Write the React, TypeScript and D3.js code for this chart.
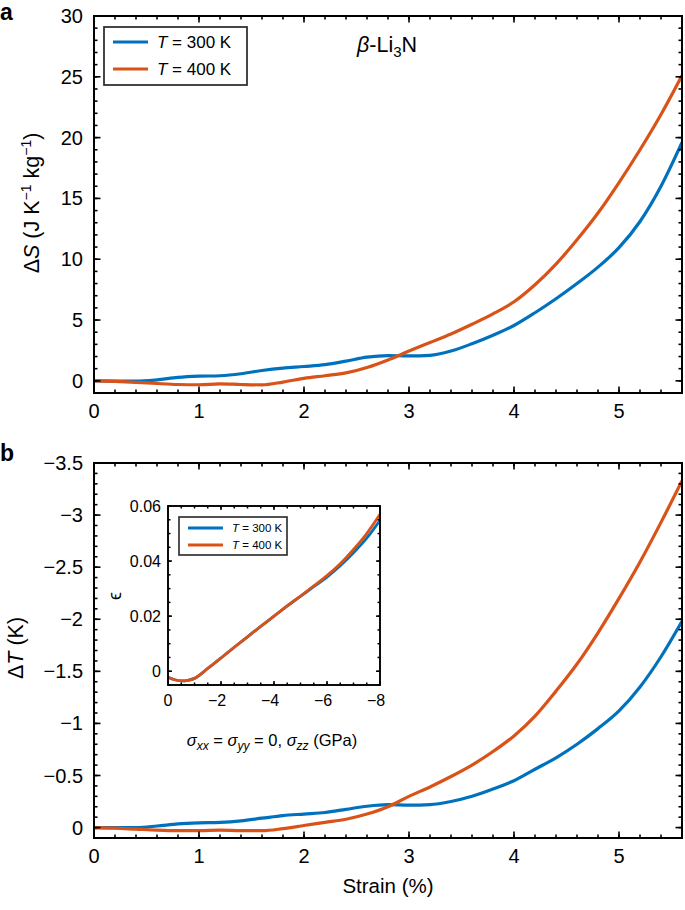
import React from "react";
import * as d3 from "d3";

// ---------- data ----------
const strain = [0, 0.2, 0.4, 0.6, 0.8, 1.0, 1.2, 1.4, 1.6, 1.8, 2.0, 2.2, 2.4, 2.6, 2.8, 3.0, 3.2, 3.4, 3.6, 3.8, 4.0, 4.2, 4.4, 4.6, 4.8, 5.0, 5.2, 5.4, 5.6];
const dS300 = [0, -0.02, -0.03, 0.08, 0.28, 0.38, 0.42, 0.58, 0.85, 1.05, 1.18, 1.33, 1.62, 1.95, 2.08, 2.05, 2.1, 2.45, 3.05, 3.75, 4.55, 5.6, 6.75, 8.0, 9.35, 10.95, 13.1, 16.0, 19.6];
const dS400 = [0, -0.05, -0.12, -0.22, -0.3, -0.32, -0.25, -0.3, -0.33, -0.1, 0.2, 0.42, 0.65, 1.1, 1.72, 2.45, 3.15, 3.85, 4.65, 5.5, 6.5, 7.9, 9.6, 11.6, 13.8, 16.3, 19.0, 21.9, 25.1];
const dT300 = [0, 0, 0, -0.015, -0.035, -0.045, -0.05, -0.065, -0.09, -0.115, -0.13, -0.145, -0.175, -0.205, -0.22, -0.215, -0.22, -0.25, -0.3, -0.37, -0.45, -0.56, -0.67, -0.8, -0.95, -1.12, -1.35, -1.64, -1.98];
const dT400 = [0, 0.005, 0.015, 0.025, 0.03, 0.03, 0.025, 0.03, 0.03, 0.01, -0.02, -0.05, -0.08, -0.13, -0.2, -0.3, -0.39, -0.49, -0.6, -0.73, -0.88, -1.07, -1.31, -1.57, -1.87, -2.2, -2.55, -2.93, -3.33];

const sigma = [0, -0.25, -0.5, -0.75, -1, -1.5, -2, -2.5, -3, -3.5, -4, -4.5, -5, -5.5, -6, -6.5, -7, -7.5, -8];
const eps400 = [-0.0022, -0.0031, -0.0035, -0.0033, -0.0026, 0.001, 0.0048, 0.0087, 0.0125, 0.0163, 0.02, 0.0237, 0.0273, 0.031, 0.0347, 0.039, 0.0442, 0.05, 0.057];
const eps300 = [-0.0022, -0.0031, -0.0035, -0.0033, -0.0026, 0.001, 0.0048, 0.0087, 0.0125, 0.0163, 0.02, 0.0237, 0.0272, 0.0307, 0.0342, 0.0383, 0.043, 0.0483, 0.0548];

const xTicks = [0, 1, 2, 3, 4, 5];
const yTicksA = [0, 5, 10, 15, 20, 25, 30];
const yTicksB = [0, -0.5, -1, -1.5, -2, -2.5, -3, -3.5];
const insetXTicks = [0, -2, -4, -6, -8];
const insetYTicks = [0, 0.02, 0.04, 0.06];
const legendLabels = ["300 K", "400 K"];

const BLUE = "#0072BD";
const ORANGE = "#D95319";
const FONT = "'Liberation Sans', Arial, Helvetica, sans-serif";

const fmt = (v: number) => {
  const s = String(Math.abs(v));
  return v < 0 ? "\u2212" + s : s;
};

function range(a: number, b: number, step: number) {
  const out: number[] = [];
  const n = Math.round((b - a) / step);
  for (let i = 0; i <= n; i++) out.push(+(a + i * step).toFixed(6));
  return out;
}

function Frame({ x, y, xMajor, xMinor, yMajor, yMinor, majLen, minLen, sw }: any) {
  const [x0, x1] = x.range();
  const [y0, y1] = y.range();
  const top = Math.min(y0, y1), bot = Math.max(y0, y1);
  const els: any[] = [];
  const inX = (v: number) => { const p = x(v); return p >= x0 - 0.5 && p <= x1 + 0.5; };
  const inY = (v: number) => { const p = y(v); return p >= top - 0.5 && p <= bot + 0.5; };
  xMinor.filter(inX).forEach((v: number, i: number) => {
    els.push(<line key={"xm" + i} x1={x(v)} x2={x(v)} y1={bot} y2={bot - minLen} />);
    els.push(<line key={"xmt" + i} x1={x(v)} x2={x(v)} y1={top} y2={top + minLen} />);
  });
  xMajor.filter(inX).forEach((v: number, i: number) => {
    els.push(<line key={"xM" + i} x1={x(v)} x2={x(v)} y1={bot} y2={bot - majLen} />);
    els.push(<line key={"xMt" + i} x1={x(v)} x2={x(v)} y1={top} y2={top + majLen} />);
  });
  yMinor.filter(inY).forEach((v: number, i: number) => {
    els.push(<line key={"ym" + i} x1={x0} x2={x0 + minLen} y1={y(v)} y2={y(v)} />);
    els.push(<line key={"ymr" + i} x1={x1} x2={x1 - minLen} y1={y(v)} y2={y(v)} />);
  });
  yMajor.filter(inY).forEach((v: number, i: number) => {
    els.push(<line key={"yM" + i} x1={x0} x2={x0 + majLen} y1={y(v)} y2={y(v)} />);
    els.push(<line key={"yMr" + i} x1={x1} x2={x1 - majLen} y1={y(v)} y2={y(v)} />);
  });
  return (
    <g stroke="#000" strokeWidth={sw} fill="none">
      {els}
      <rect x={x0} y={top} width={x1 - x0} height={bot - top} strokeWidth={sw + 0.4} />
    </g>
  );
}

export default function App() {
  const xA = d3.scaleLinear().domain([0, 5.6]).range([94, 682]);
  const yA = d3.scaleLinear().domain([-1, 30]).range([393, 16]);
  const xB = d3.scaleLinear().domain([0, 5.6]).range([94, 682]);
  const yB = d3.scaleLinear().domain([0.1, -3.5]).range([838, 463]);
  const xI = d3.scaleLinear().domain([0, -8]).range([168, 380]);
  const yI = d3.scaleLinear().domain([-0.005, 0.06]).range([685, 506]);

  const lineA = (ys: number[]) =>
    d3.line<number>().x((_, i) => xA(strain[i])).y((d) => yA(d)).curve(d3.curveMonotoneX)(ys) || "";
  const lineB = (ys: number[]) =>
    d3.line<number>().x((_, i) => xB(strain[i])).y((d) => yB(d)).curve(d3.curveMonotoneX)(ys) || "";
  const lineI = (ys: number[]) =>
    d3.line<number>().x((_, i) => xI(sigma[i])).y((d) => yI(d)).curve(d3.curveMonotoneX)(ys) || "";

  const TICK = 20;

  return (
    <svg width={685} height={910} style={{ position: "absolute", left: 0, top: 0, background: "#fff" }} fontFamily={FONT}>
      <rect width={685} height={910} fill="#fff" />
      <defs>
        <clipPath id="clipA"><rect x={94} y={16} width={588} height={377} /></clipPath>
        <clipPath id="clipB"><rect x={94} y={463} width={588} height={375} /></clipPath>
        <clipPath id="clipI"><rect x={168} y={506} width={212} height={179} /></clipPath>
      </defs>

      {/* ---------- Panel a ---------- */}
      <text x={0} y={20} fontSize={23} fontWeight="bold">a</text>
      <g clipPath="url(#clipA)">
        <path d={lineA(dS300)} fill="none" stroke={BLUE} strokeWidth={3.2} />
        <path d={lineA(dS400)} fill="none" stroke={ORANGE} strokeWidth={3.2} />
      </g>
      <Frame x={xA} y={yA} xMajor={xTicks} xMinor={range(0, 5.6, 0.2)} yMajor={yTicksA} yMinor={range(-1, 30, 1)} majLen={6.5} minLen={3.5} sw={1.6} />
      {xTicks.map((t) => (
        <text key={"xa" + t} x={xA(t)} y={418} fontSize={TICK} textAnchor="middle">{fmt(t)}</text>
      ))}
      {yTicksA.map((t) => (
        <text key={"ya" + t} x={83} y={yA(t) + 7} fontSize={TICK} textAnchor="end">{fmt(t)}</text>
      ))}
      <text transform="translate(39,203) rotate(-90)" fontSize={21.5} textAnchor="middle">
        <tspan>Δ</tspan><tspan fontStyle="italic">S</tspan><tspan> (J K</tspan>
        <tspan dy={-8} fontSize={14}>−1</tspan><tspan dy={8}> kg</tspan>
        <tspan dy={-8} fontSize={14}>−1</tspan><tspan dy={8}>)</tspan>
      </text>
      <text x={357} y={52} fontSize={21.5}>
        <tspan fontStyle="italic">β</tspan><tspan>-Li</tspan><tspan dy={5} fontSize={15}>3</tspan><tspan dy={-5}>N</tspan>
      </text>
      <g>
        <rect x={104} y={27} width={143} height={58} fill="#fff" stroke="#262626" strokeWidth={1.7} />
        {[BLUE, ORANGE].map((c, i) => (
          <g key={"la" + i}>
            <line x1={113} x2={148} y1={42 + i * 27} y2={42 + i * 27} stroke={c} strokeWidth={3.2} />
            <text x={157} y={48 + i * 27} fontSize={17}>
              <tspan fontStyle="italic">T</tspan><tspan> = {legendLabels[i]}</tspan>
            </text>
          </g>
        ))}
      </g>

      {/* ---------- Panel b ---------- */}
      <text x={0} y={461} fontSize={23} fontWeight="bold">b</text>
      <g clipPath="url(#clipB)">
        <path d={lineB(dT300)} fill="none" stroke={BLUE} strokeWidth={3.2} />
        <path d={lineB(dT400)} fill="none" stroke={ORANGE} strokeWidth={3.2} />
      </g>
      <Frame x={xB} y={yB} xMajor={xTicks} xMinor={range(0, 5.6, 0.2)} yMajor={yTicksB} yMinor={range(-3.5, 0.1, 0.1)} majLen={6.5} minLen={3.5} sw={1.6} />
      {xTicks.map((t) => (
        <text key={"xb" + t} x={xB(t)} y={863} fontSize={TICK} textAnchor="middle">{fmt(t)}</text>
      ))}
      {yTicksB.map((t) => (
        <text key={"yb" + t} x={83} y={yB(t) + 7} fontSize={TICK} textAnchor="end">{fmt(t)}</text>
      ))}
      <text transform="translate(23,648) rotate(-90)" fontSize={21.5} textAnchor="middle">
        <tspan>Δ</tspan><tspan fontStyle="italic">T</tspan><tspan> (K)</tspan>
      </text>
      <text x={388} y={893} fontSize={20.5} textAnchor="middle">Strain (%)</text>

      {/* ---------- Inset ---------- */}
      <rect x={168} y={506} width={212} height={179} fill="#fff" />
      <g clipPath="url(#clipI)">
        <path d={lineI(eps300)} fill="none" stroke={BLUE} strokeWidth={2.8} />
        <path d={lineI(eps400)} fill="none" stroke={ORANGE} strokeWidth={2.8} />
      </g>
      <Frame x={xI} y={yI} xMajor={insetXTicks} xMinor={range(-8, 0, 0.5)} yMajor={insetYTicks} yMinor={range(-0.005, 0.06, 0.005)} majLen={4} minLen={2.5} sw={1.5} />
      {insetXTicks.map((t) => (
        <text key={"xi" + t} x={xI(t) - (t < 0 ? 4 : 0)} y={706} fontSize={16} textAnchor="middle">{fmt(t)}</text>
      ))}
      {insetYTicks.map((t) => (
        <text key={"yi" + t} x={161} y={yI(t) + 5.5} fontSize={16} textAnchor="end">{fmt(t)}</text>
      ))}
      <text transform="translate(121,596) rotate(-90)" fontSize={18} textAnchor="middle">ϵ</text>
      <text x={272} y={746} fontSize={16.5} textAnchor="middle">
        <tspan fontStyle="italic">σ</tspan><tspan dy={4} fontSize={12} fontStyle="italic">xx</tspan>
        <tspan dy={-4}> = </tspan>
        <tspan fontStyle="italic">σ</tspan><tspan dy={4} fontSize={12} fontStyle="italic">yy</tspan>
        <tspan dy={-4}> = 0, </tspan>
        <tspan fontStyle="italic">σ</tspan><tspan dy={4} fontSize={12} fontStyle="italic">zz</tspan>
        <tspan dy={-4}> (GPa)</tspan>
      </text>
      <g>
        <rect x={179} y={517} width={108} height={38} fill="#fff" stroke="#262626" strokeWidth={1.6} />
        {[BLUE, ORANGE].map((c, i) => (
          <g key={"li" + i}>
            <line x1={188} x2={223} y1={528 + i * 17} y2={528 + i * 17} stroke={c} strokeWidth={3} />
            <text x={232} y={532 + i * 17} fontSize={11.5}>
              <tspan fontStyle="italic">T</tspan><tspan> = {legendLabels[i]}</tspan>
            </text>
          </g>
        ))}
      </g>
    </svg>
  );
}
